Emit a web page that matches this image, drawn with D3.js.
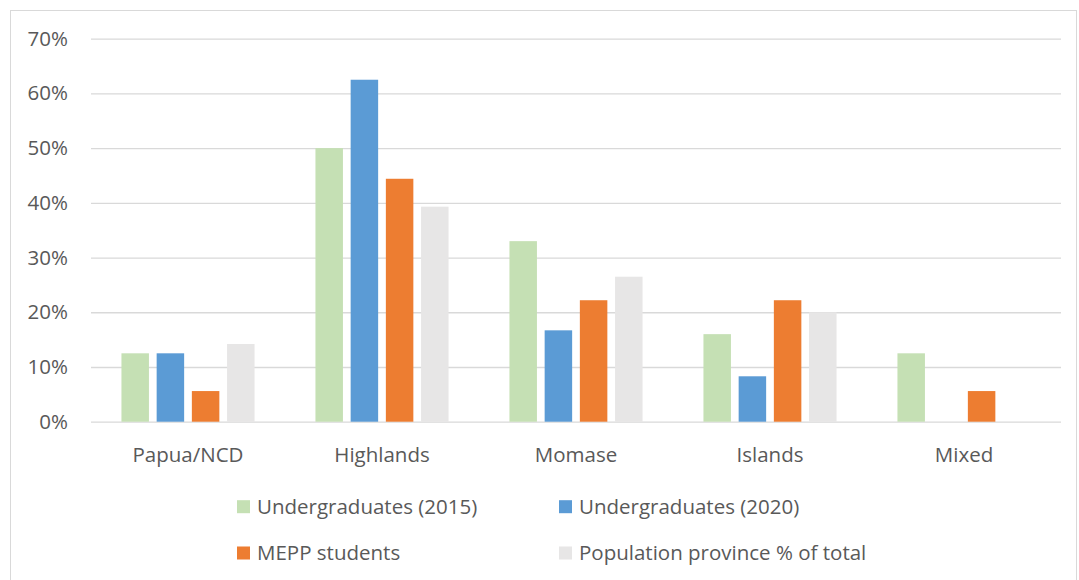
<!DOCTYPE html>
<html>
<head>
<meta charset="utf-8">
<script src="https://cdn.jsdelivr.net/npm/d3@7"></script>
<style>
  html, body { margin: 0; padding: 0; background: #fff; }
  svg { display: block; }
  text { font-family: "Open Sans", "Noto Sans", sans-serif; fill: #595959; }
</style>
</head>
<body>
<svg id="chart" width="1079" height="580"></svg>
<script>
const categories = ["Papua/NCD", "Highlands", "Momase", "Islands", "Mixed"];
const seriesNames = ["Undergraduates (2015)", "Undergraduates (2020)", "MEPP students", "Population province % of total"];
const undergrad2015 = [0.125, 0.50, 0.33, 0.16, 0.125];
const undergrad2020 = [0.125, 0.625, 0.167, 0.083, null];
const meppStudents = [0.056, 0.444, 0.222, 0.222, 0.056];
const populationShare = [0.142, 0.393, 0.265, 0.20, null];
const yTicks = [0, 0.1, 0.2, 0.3, 0.4, 0.5, 0.6, 0.7];
const colors = ["#C5E0B4", "#5B9BD5", "#ED7D31", "#E7E6E6"];

const seriesValues = [undergrad2015, undergrad2020, meppStudents, populationShare];
const svg = d3.select("#chart");
const plot = { left: 91, right: 1061, top: 38.7, bottom: 421.7 };
const fontSize = 20.5;
const fontFamily = '"Open Sans", "Noto Sans", sans-serif';

// outer border
svg.append("rect").attr("x", 10.5).attr("y", 10.5).attr("width", 1066).attr("height", 620)
  .attr("fill", "none").attr("stroke", "#D9D9D9").attr("stroke-width", 1);

const y = d3.scaleLinear().domain([0, 0.7]).range([plot.bottom, plot.top]);
const x0 = d3.scaleBand().domain(categories).range([plot.left, plot.right]).padding(0);
const x1 = d3.scaleBand().domain(d3.range(seriesNames.length))
  .range([0, x0.bandwidth()]).paddingInner(0.219).paddingOuter(0.865);

// gridlines + y labels
const yAxis = d3.axisLeft(y).tickValues(yTicks).tickFormat(d3.format(".0%"))
  .tickSize(-(plot.right - plot.left)).tickPadding(23);
const gy = svg.append("g").attr("transform", `translate(${plot.left},0)`).call(yAxis);
gy.select(".domain").remove();
gy.selectAll(".tick line").attr("stroke", "#D9D9D9").attr("stroke-width", 1.3);
gy.selectAll(".tick text").style("font-size", fontSize + "px").attr("fill", "#595959")
  .style("font-family", fontFamily);

// bars
const groups = svg.append("g").selectAll("g").data(categories).join("g")
  .attr("transform", d => `translate(${x0(d)},0)`);
groups.selectAll("rect")
  .data((c, ci) => seriesValues.map((vals, si) => ({ si, v: vals[ci] })).filter(d => d.v != null))
  .join("rect")
  .attr("x", d => x1(d.si))
  .attr("width", x1.bandwidth())
  .attr("y", d => y(d.v))
  .attr("height", d => y(0) - y(d.v))
  .attr("fill", d => colors[d.si]);

// x axis labels
const xAxis = d3.axisBottom(x0).tickSize(0).tickPadding(25.4);
const gx = svg.append("g").attr("transform", `translate(0,${plot.bottom})`).call(xAxis);
gx.select(".domain").remove();
gx.selectAll(".tick text").style("font-size", fontSize + "px").attr("fill", "#595959")
  .style("font-family", fontFamily);

// legend
const legendPos = [[237, 506.7], [559, 506.7], [237, 553], [559, 553]];
const lg = svg.append("g").selectAll("g").data(seriesNames).join("g")
  .attr("transform", (d, i) => `translate(${legendPos[i][0]},${legendPos[i][1]})`);
lg.append("rect").attr("x", 0).attr("y", -6.5).attr("width", 13).attr("height", 13)
  .attr("fill", (d, i) => colors[i]);
lg.append("text").attr("x", 20).attr("y", 0).attr("dy", "0.35em")
  .style("font-size", fontSize + "px").text(d => d);
</script>
</body>
</html>
